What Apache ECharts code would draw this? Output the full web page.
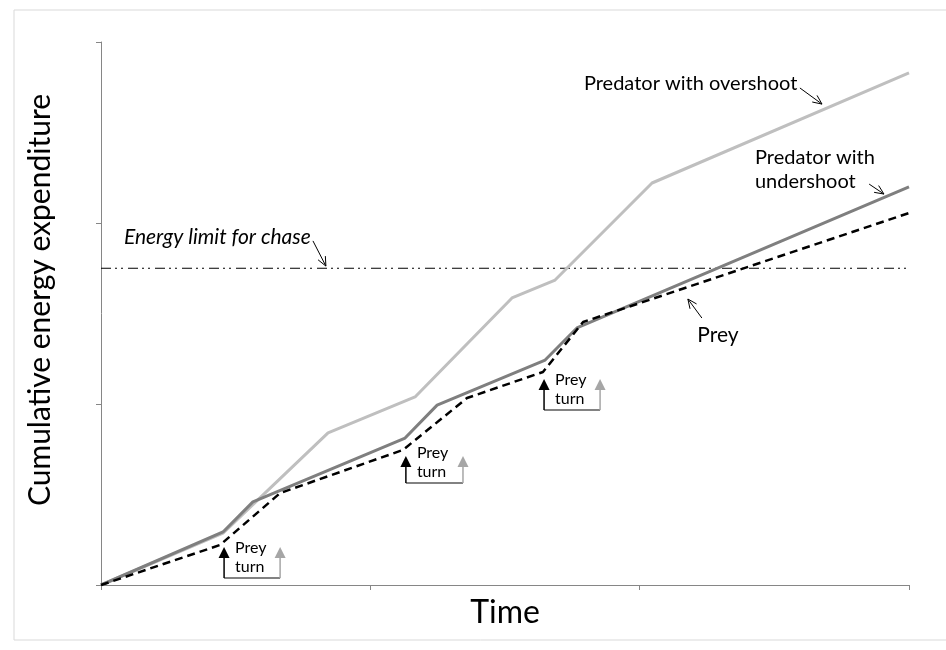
<!DOCTYPE html>
<html><head><meta charset="utf-8">
<script src="https://cdn.jsdelivr.net/npm/echarts@6/dist/echarts.min.js"></script>
<style>html,body{margin:0;padding:0;background:#fff}#c{width:946px;height:650px}</style>
</head><body><div id="c"></div>
<script>
// ---- data ----
const xRange = [0, 3];
const yRange = [0, 3];
const overshoot = [[0,0],[0.453,0.287],[0.843,0.840],[1.166,1.039],[1.526,1.586],[1.686,1.685],[2.046,2.221],[3,2.829]];
const undershoot = [[0,0],[0.453,0.293],[0.564,0.459],[1.129,0.812],[1.248,0.994],[1.649,1.243],[1.767,1.420],[3,2.199]];
const prey = [[0,0],[0.442,0.221],[0.665,0.508],[1.121,0.746],[1.359,1.033],[1.641,1.177],[1.790,1.453],[3,2.055]];
const energyLimit = [[0,1.75],[3,1.75]];
// prey turn markers: [x black arrow, x grey arrow, y tip, y base]
const preyTurns = [[0.457,0.665,0.210,0.039],[1.132,1.344,0.713,0.564],[1.645,1.853,1.138,0.967]];
const turnLabels = ['Prey', 'turn'];
// callouts: text anchor and arrow (from -> to), in data units
const calloutTexts = ['Predator with overshoot', 'Energy limit for chase', 'Predator with\nundershoot', 'Prey'];
const calloutAnchors = [[1.793,2.773],[0.085,1.923],[2.428,2.293],[2.214,1.381]];
const calloutArrows = [[2.595,2.746,2.677,2.657],[0.787,1.901,0.835,1.762],[2.852,2.215,2.907,2.160],[2.231,1.475,2.179,1.580]];
const xName = 'Time';
const yName = 'Cumulative energy expenditure';

// ---- styles ----
const FONT = 'Lato, "Open Sans", sans-serif';
const calloutStyle = [
  {size:20, italic:false},
  {size:21, italic:true},
  {size:20, italic:false, lh:24},
  {size:21, italic:false}
];

function renderTurn(params, api){
  const xb=api.value(0), xg=api.value(1), yt=api.value(2), yb=api.value(3);
  const bt=api.coord([xb,yt]), bb=api.coord([xb,yb]), gt=api.coord([xg,yt]), gb=api.coord([xg,yb]);
  const h=11, w=5.5;
  return {type:'group', children:[
    {type:'line', shape:{x1:bb[0],y1:bb[1],x2:gb[0],y2:gb[1]}, style:{stroke:'#595959',lineWidth:1.5}},
    {type:'line', shape:{x1:bb[0],y1:bb[1],x2:bt[0],y2:bt[1]+h}, style:{stroke:'#000',lineWidth:1.5}},
    {type:'polygon', shape:{points:[[bt[0],bt[1]],[bt[0]-w,bt[1]+h],[bt[0]+w,bt[1]+h]]}, style:{fill:'#000'}},
    {type:'line', shape:{x1:gb[0],y1:gb[1],x2:gt[0],y2:gt[1]+h}, style:{stroke:'#a6a6a6',lineWidth:1.5}},
    {type:'polygon', shape:{points:[[gt[0],gt[1]],[gt[0]-w,gt[1]+h],[gt[0]+w,gt[1]+h]]}, style:{fill:'#a6a6a6'}},
    {type:'text', style:{x:bt[0]+11, y:bb[1]-30, text:turnLabels[0], fill:'#000', font:'16px '+FONT, align:'left', verticalAlign:'middle'}},
    {type:'text', style:{x:bt[0]+11, y:bb[1]-11, text:turnLabels[1], fill:'#000', font:'16px '+FONT, align:'left', verticalAlign:'middle'}}
  ]};
}

function renderCallout(params, api){
  const i = params.dataIndex;
  const a = calloutAnchors[i], ar = calloutArrows[i], st = calloutStyle[i];
  const p = api.coord(a), f = api.coord([ar[0],ar[1]]), t = api.coord([ar[2],ar[3]]);
  const ang = Math.atan2(f[1]-t[1], f[0]-t[0]);
  const L = 10, sp = 0.42;
  const h1 = [t[0]+L*Math.cos(ang+sp), t[1]+L*Math.sin(ang+sp)];
  const h2 = [t[0]+L*Math.cos(ang-sp), t[1]+L*Math.sin(ang-sp)];
  return {type:'group', children:[
    {type:'text', style:{x:p[0], y:p[1], text:calloutTexts[i], fill:'#000',
      font:(st.italic?'italic ':'')+st.size+'px '+FONT, lineHeight: st.lh||st.size*1.2, align:'left', verticalAlign:'middle'}},
    {type:'line', shape:{x1:f[0],y1:f[1],x2:t[0],y2:t[1]}, style:{stroke:'#000',lineWidth:1}},
    {type:'polyline', shape:{points:[h1,t,h2]}, style:{stroke:'#000',lineWidth:1,fill:null}}
  ]};
}

const chart = echarts.init(document.getElementById('c'), null, {renderer:'canvas'});
chart.setOption({
  animation:false,
  backgroundColor:'#fff',
  grid:{left:101,right:37,top:42,bottom:65},
  graphic:[
    {type:'rect', shape:{x:14,y:10,width:1000,height:630}, style:{stroke:'#d9d9d9',fill:null,lineWidth:1}, silent:true, z:-10},
    {type:'text', x:40, y:300, rotation:Math.PI/2, silent:true,
      style:{text:yName, fill:'#000', font:'30px '+FONT, align:'center', verticalAlign:'middle'}}
  ],
  xAxis:{type:'value', min:xRange[0], max:xRange[1], interval:1,
    axisLine:{lineStyle:{color:'#868686',width:1}}, axisTick:{show:true,length:5,lineStyle:{color:'#868686'}},
    axisLabel:{show:false}, splitLine:{show:false},
    name:xName, nameLocation:'middle', nameGap:12,
    nameTextStyle:{fontSize:32, fontFamily:FONT, color:'#000', verticalAlign:'top'}},
  yAxis:{type:'value', min:yRange[0], max:yRange[1], interval:1,
    axisLine:{show:true,lineStyle:{color:'#868686',width:1}}, axisTick:{show:true,length:5,lineStyle:{color:'#868686'}},
    axisLabel:{show:false}, splitLine:{show:false}},
  series:[
    {type:'line', data:overshoot, symbol:'none', lineStyle:{color:'#bfbfbf',width:3}, z:2},
    {type:'line', data:undershoot, symbol:'none', lineStyle:{color:'#7f7f7f',width:3}, z:3},
    {type:'line', data:prey, symbol:'none', lineStyle:{color:'#000',width:2.5,type:[8,5]}, z:4},
    {type:'line', data:energyLimit, symbol:'none', lineStyle:{color:'#000',width:1,type:[10,4,2,4,2,5]}, z:1},
    {type:'custom', data:preyTurns, renderItem:renderTurn, encode:{x:[0,1],y:[2,3]}, z:5, silent:true},
    {type:'custom', data:calloutTexts.map((t,i)=>[calloutAnchors[i][0],calloutAnchors[i][1]]), renderItem:renderCallout, encode:{x:0,y:1}, z:6, silent:true, clip:false}
  ]
});
</script></body></html>
